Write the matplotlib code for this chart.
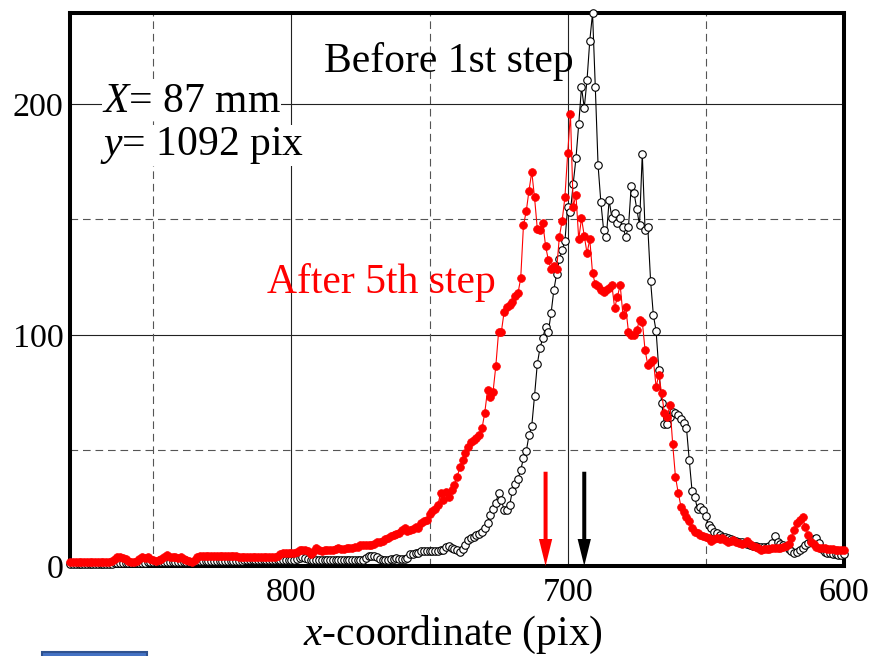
import numpy as np
import matplotlib
matplotlib.use("Agg")
import matplotlib.pyplot as plt
from matplotlib.patches import FancyArrow, Rectangle

plt.rcParams['font.family'] = ['Liberation Serif', 'DejaVu Serif']
plt.rcParams['mathtext.fontset'] = 'custom'
plt.rcParams['mathtext.it'] = 'Liberation Serif:italic'
plt.rcParams['mathtext.rm'] = 'Liberation Serif'
plt.rcParams['lines.scale_dashes'] = False

# ---------------- data ----------------
x_first, x_last = 880, 600          # one sample per pixel, from left to right (reversed axis)

after5_y = [
    1.9, 1.9, 1.9, 1.9, 1.9, 1.9, 1.9, 1.9, 1.9, 1.9,        # 880-871
    1.9, 1.9, 1.9, 1.9, 1.9, 2.0, 3.0, 3.8, 3.8, 3.6,        # 870-861
    3.0, 2.0, 1.9, 1.9, 2.2, 3.0, 3.8, 3.5, 3.8, 3.0,        # 860-851
    2.6, 2.2, 2.6, 3.2, 3.8, 4.8, 4.0, 3.8, 3.8, 3.5,        # 850-841
    3.8, 3.0, 2.5, 2.2, 1.6, 2.6, 4.0, 4.5, 4.5, 4.5,        # 840-831
    4.5, 4.5, 4.4, 4.4, 4.5, 4.3, 4.3, 4.4, 4.2, 4.2,        # 830-821
    4.2, 4.0, 4.0, 4.0, 4.0, 3.9, 3.9, 3.8, 3.8, 3.8,        # 820-811
    3.8, 3.9, 4.0, 4.0, 4.0, 4.2, 5.2, 5.5, 5.5, 5.5,        # 810-801
    5.5, 5.8, 6.2, 6.8, 7.0, 6.8, 6.5, 5.0, 6.2, 7.6,        # 800-791
    7.0, 6.6, 6.8, 6.8, 6.9, 7.0, 7.4, 7.6, 7.4, 7.4,        # 790-781
    7.7, 7.7, 7.8, 8.4, 8.4, 9.0, 9.1, 9.1, 9.1, 9.1,        # 780-771
    9.5, 10.5, 10.2, 10.8, 11.5, 12.0, 13.0, 13.4, 14.0, 14.5,   # 770-761
    15.6, 16.3, 15.3, 15.5, 16.0, 17.0, 16.3, 18.5, 19.5, 20.0,  # 760-751
    22.5, 23.9, 24.5, 26.4, 31.5, 28.6, 32.2, 30.0, 32.9, 35.1,  # 750-741
    38.7, 42.7, 45.9, 48.8, 51.6, 53.8, 54.5, 55.3, 56.7, 59.6,  # 740-731
    66.4, 76.2, 73.3, 75.5, 86.6, 101.4, 101.4, 110.0, 112.0, 113.0,      # 730-721
    114.4, 117.0, 118.0, 124.5, 147.5, 153.5, 162.5, 170.6, 159.6, 146.0, # 720-711
    145.5, 148.6, 138.5, 132.5, 128.4, 130.0, 128.4, 142.6, 149.5, 159.6, # 710-701
    178.6, 195.7, 155.5, 160.6, 141.4, 150.5, 143.0, 135.4, 141.4, 126.7, # 700-691
    122.0, 121.0, 119.5, 118.8, 119.5, 120.2, 121.6, 111.6, 116.6, 121.6, # 690-681
    108.7, 112.0, 101.4, 100.2, 100.0, 102.2, 106.5, 105.8, 93.5, 87.0,   # 680-671
    88.5, 89.2, 77.6, 82.7, 74.8, 66.1, 64.6, 69.7, 52.8, 38.7,  # 670-661
    31.7, 25.7, 23.5, 21.4, 19.5, 16.5, 14.7, 14.2, 13.4, 13.0,  # 660-651
    12.7, 12.0, 10.8, 11.7, 12.0, 11.7, 12.0, 11.2, 10.4, 10.8,  # 650-641
    11.2, 10.4, 9.8, 9.4, 10.1, 10.8, 9.4, 8.7, 8.4, 7.6,        # 640-631
    7.0, 7.2, 7.2, 7.5, 8.0, 8.0, 8.0, 8.0, 8.4, 8.7,            # 630-621
    9.4, 12.0, 15.5, 18.7, 20.0, 21.0, 17.0, 13.5, 10.5, 9.5,    # 620-611
    8.4, 8.0, 8.0, 7.8, 7.5, 7.5, 7.2, 7.0, 7.0, 7.0,            # 610-601
    6.9,                                                         # 600
]

before1_y = [
    0.8, 0.8, 0.8, 0.8, 0.8, 0.8, 0.8, 0.8, 0.8, 0.8,        # 880-871
    0.8, 0.8, 0.9, 1.0, 1.0, 1.0, 1.2, 1.2, 1.3, 1.3,        # 870-861
    1.4, 1.4, 1.5, 1.5, 1.5, 1.5, 1.5, 1.5, 1.6, 1.6,        # 860-851
    1.6, 1.6, 1.6, 1.7, 1.7, 1.7, 1.7, 1.8, 1.8, 1.8,        # 850-841
    1.8, 1.8, 1.9, 1.9, 1.9, 2.0, 2.0, 2.0, 2.0, 2.0,        # 840-831
    2.0, 2.1, 2.1, 2.1, 2.2, 2.2, 2.2, 2.2, 2.3, 2.3,        # 830-821
    2.3, 2.3, 2.3, 2.4, 2.4, 2.4, 2.4, 2.4, 2.5, 2.5,        # 820-811
    2.5, 2.5, 2.5, 2.5, 2.6, 2.6, 2.6, 2.6, 2.6, 2.7,        # 810-801
    2.7, 2.8, 3.0, 3.4, 3.8, 3.5, 3.0, 2.8, 2.6, 2.5,        # 800-791
    2.5, 2.4, 2.4, 2.4, 2.4, 2.4, 2.5, 2.5, 2.5, 2.5,        # 790-781
    2.5, 2.5, 2.6, 2.6, 2.6, 2.6, 2.8, 3.4, 4.2, 4.3,        # 780-771
    4.3, 3.8, 3.0, 2.6, 2.5, 2.6, 3.0, 3.2, 3.4, 3.2,        # 770-761
    3.2, 3.2, 3.6, 5.2, 5.2, 5.8, 5.8, 6.3, 6.5, 6.6,        # 760-751
    6.6, 6.5, 6.5, 6.6, 6.8, 6.9, 8.1, 8.7, 7.7, 7.2,        # 750-741
    6.9, 6.2, 7.5, 9.1, 11.3, 12.0, 12.7, 13.4, 14.0, 14.9,  # 740-731
    16.5, 18.5, 22.1, 24.5, 27.4, 31.7, 28.6, 24.2, 24.2, 26.4,   # 730-721
    32.6, 35.5, 37.5, 41.6, 46.6, 49.6, 56.6, 60.6, 73.6, 87.4,   # 720-711
    94.5, 98.6, 103.6, 101.4, 109.5, 119.5, 126.4, 132.8, 136.8, 140.6,   # 710-701
    155.5, 153.4, 165.5, 176.5, 191.3, 207.2, 198.3, 210.4, 227.4, 239.3, # 700-691
    207.2, 173.4, 157.6, 145.5, 142.6, 158.4, 150.5, 152.7, 148.6, 150.5, # 690-681
    146.6, 142.6, 146.6, 164.6, 161.6, 154.5, 147.6, 178.5, 145.5, 146.6, # 680-671
    123.5, 108.7, 101.7, 84.7, 70.7, 61.6, 61.6, 64.6, 66.8, 66.4,        # 670-661
    65.4, 63.5, 61.8, 59.6, 45.8, 32.6, 29.7, 24.7, 25.5, 24.2,  # 660-651
    21.6, 17.7, 16.3, 14.8, 14.1, 13.4, 12.7, 12.5, 12.0, 11.8,  # 650-641
    11.2, 11.0, 10.5, 10.2, 10.0, 9.6, 9.2, 8.8, 8.5, 8.4,       # 640-631
    8.4, 8.2, 8.4, 8.6, 10.0, 13.0, 10.5, 9.5, 9.0, 8.5,         # 630-621
    7.5, 6.5, 5.8, 6.2, 7.0, 8.0, 9.0, 10.0, 11.0, 11.5,         # 620-611
    12.0, 10.0, 7.5, 6.0, 5.5, 5.5, 5.0, 5.0, 4.8, 4.8,          # 610-601
    5.0,                                                         # 600
]

x_ticks = [800, 700, 600]
y_ticks = [0, 100, 200]
x_major_grid = [800, 700]
x_minor_grid = [850, 750, 650]
y_major_grid = [100, 200]
y_minor_grid = [50, 150]

arrow_x = [708, 694]
arrow_colors = ['red', 'black']
arrow_top = 40.8

x_vals = np.arange(x_first, x_last - 1, -1)
assert len(x_vals) == len(after5_y) == len(before1_y)

# ---------------- figure ----------------
W, H = 872, 656
fig = plt.figure(figsize=(W / 100, H / 100), dpi=100)
L, R, T, B = 70.3, 844.0, 12.7, 566.0
ax = fig.add_axes([L / W, 1 - B / H, (R - L) / W, (B - T) / H])
ax.set_xlim(880, 600)
ax.set_ylim(0, 239.5)

for v in x_major_grid:
    ax.axvline(v, color='#222222', lw=0.8, zorder=1)
for v in y_major_grid:
    ax.axhline(v, color='#222222', lw=0.8, zorder=1)
for v in x_minor_grid:
    ax.axvline(v, color='#555555', lw=0.8, dashes=(5.5, 3.5), zorder=1)
for v in y_minor_grid:
    ax.axhline(v, color='#555555', lw=0.8, dashes=(5.5, 3.5), zorder=1)

ax.plot(x_vals, before1_y, '-o', color='black', lw=0.8, ms=5.4,
        mfc='white', mec='black', mew=0.8, zorder=3, clip_on=False)
ax.plot(x_vals, after5_y, '-o', color='red', lw=0.8, ms=5.6,
        mfc='red', mec='red', mew=0.5, zorder=4, clip_on=False)

yl = ax.get_ylim()
px_per_x = (R - L) / 280.0
px_per_y = (B - T) / (yl[1] - yl[0])
for xa, c in zip(arrow_x, arrow_colors):
    ax.add_patch(FancyArrow(xa, arrow_top, 0, -arrow_top, width=4.0 / px_per_x,
                            head_width=13.3 / px_per_x, head_length=27 / px_per_y,
                            length_includes_head=True, color=c, lw=0, zorder=5))

ax.set_xticks(x_ticks)
ax.set_yticks(y_ticks)
ax.tick_params(axis='both', length=0, labelsize=24.5)
ax.tick_params(axis='x', pad=8)
ax.tick_params(axis='y', pad=5)
for s in ax.spines.values():
    s.set_linewidth(2.9)
    s.set_zorder(2.5)

fs = 30
fig.text(448.5 / W, 1 - 71.7 / H, 'Before 1st step', ha='center', va='baseline', fontsize=fs)
fig.text(381.5 / W, 1 - 293.3 / H, 'After 5th step', ha='center', va='baseline',
         fontsize=fs, color='red')
box = dict(facecolor='white', edgecolor='none', pad=0)
fig.text(101.7 / W, 1 - 111.7 / H, r'$X$= 87 mm', ha='left', va='baseline', fontsize=fs, bbox=box)
fig.text(100.0 / W, 1 - 155.0 / H, r'$y$= 1092 pix', ha='left', va='baseline', fontsize=fs, bbox=box)
fig.text(453.0 / W, 1 - 645.0 / H, r'$x$-coordinate (pix)', ha='center', va='baseline', fontsize=fs)

fig.add_artist(Rectangle((42 / W, -0.02), 105 / W, 0.02 + 4.3 / H, transform=fig.transFigure,
                         facecolor='#4472C4', edgecolor='#2F528F', lw=1.5, clip_on=False))

fig.savefig('out.png', dpi=100)
